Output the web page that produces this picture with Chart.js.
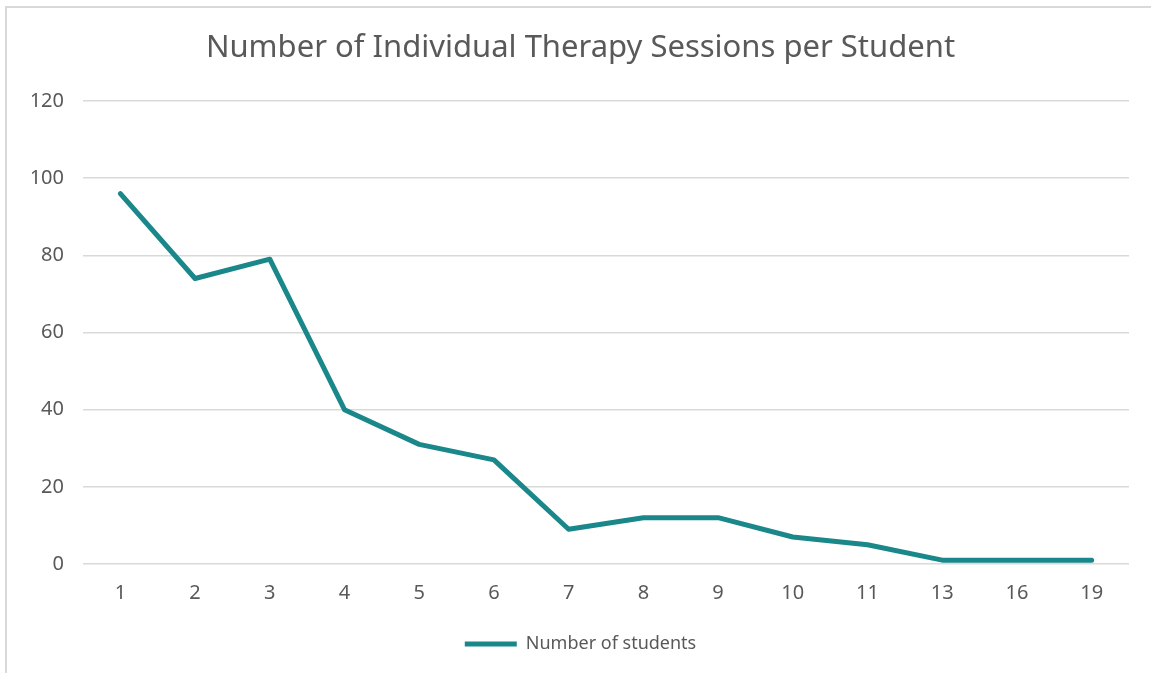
<!DOCTYPE html>
<html>
<head>
<meta charset="utf-8">
<script src="https://cdn.jsdelivr.net/npm/chart.js@4"></script>
<style>
    html, body { margin: 0; padding: 0; background: #fff; overflow: hidden; }
    #frame { position: absolute; left: 5px; top: 6px; width: 1200px; height: 700px; border-left: 2px solid #d9d9d9; border-top: 2px solid #d9d9d9; }
    #wrap { position: absolute; left: 0; top: 0; width: 1151px; height: 673px; }
</style>
</head>
<body>
<div id="frame"></div>
<div id="wrap"><canvas id="chartSessions"></canvas></div>
<script>
const sessions = ['1', '2', '3', '4', '5', '6', '7', '8', '9', '10', '11', '13', '16', '19'];
const students = [96, 74, 79, 40, 31, 27, 9, 12, 12, 7, 5, 1, 1, 1];
const yTicks = [0, 20, 40, 60, 80, 100, 120];

const textColor = '#595959';
const gridColor = '#d9d9d9';
const lineColor = '#1a878a';
const fontName = '"Noto Sans", "DejaVu Sans", sans-serif';

var mySessionChart = null;

const SessionChart = function () {
    const ctx = document.getElementById('chartSessions');
    if (mySessionChart != null) {
        mySessionChart.destroy();
    }
    mySessionChart = new Chart(ctx, {
        type: 'line',
        data: {
            labels: sessions,
            datasets: [{
                label: 'Number of students',
                data: students,
                borderColor: lineColor,
                backgroundColor: lineColor,
                borderWidth: 5,
                borderCapStyle: 'round',
                borderJoinStyle: 'round',
                pointRadius: 0,
                pointHoverRadius: 0,
                tension: 0,
                fill: false
            }]
        },
        options: {
            responsive: true,
            maintainAspectRatio: false,
            animation: false,
            layout: {
                padding: { left: 32, right: 22, top: 0, bottom: 10 }
            },
            scales: {
                x: {
                    offset: true,
                    grid: { display: false, drawTicks: false },
                    border: { display: false },
                    ticks: {
                        color: textColor,
                        padding: 17,
                        maxRotation: 0,
                        font: { family: fontName, size: 20 }
                    }
                },
                y: {
                    min: 0,
                    max: 120,
                    afterBuildTicks: (axis) => {
                        axis.ticks = yTicks.map(v => ({ value: v }));
                    },
                    afterFit: (axis) => {
                        axis.width = 51;
                    },
                    grid: { color: gridColor, lineWidth: 1.5, drawTicks: false },
                    border: { display: false },
                    ticks: {
                        color: textColor,
                        padding: 19,
                        font: { family: fontName, size: 20 }
                    }
                }
            },
            plugins: {
                title: {
                    display: true,
                    text: 'Number of Individual Therapy Sessions per Student',
                    color: textColor,
                    padding: { top: 29.4, bottom: 34.4 },
                    font: { family: fontName, size: 31, weight: 'normal' }
                },
                legend: {
                    position: 'bottom',
                    labels: {
                        color: textColor,
                        padding: 13,
                        usePointStyle: true,
                        pointStyle: 'line',
                        pointStyleWidth: 52,
                        font: { family: fontName, size: 18 }
                    }
                },
                tooltip: { enabled: false }
            }
        }
    });
}

SessionChart();
</script>
</body>
</html>
